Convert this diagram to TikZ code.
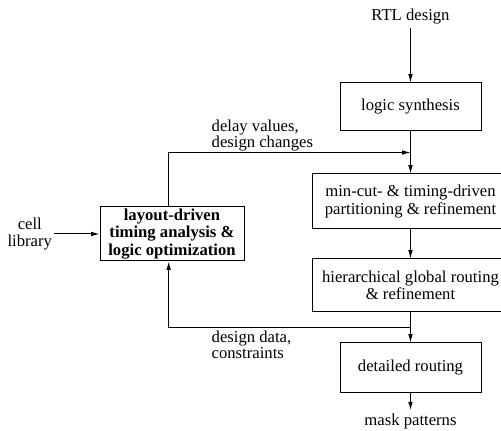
\documentclass[tikz,border=0pt]{standalone}
\usepackage{fontspec}
\setmainfont{Liberation Serif}
\usetikzlibrary{positioning,calc,arrows.meta}
\tikzset{ %
  ,>={Latex[length=5pt,width=2.8pt]}
  ,every node/.style={font=\fontsize{10}{10.5}\selectfont}
  ,every path/.style={line width=0.6pt}
  ,step box/.style={draw, align=center, inner sep=2pt, minimum width=84.6pt}
  ,wide box/.style={step box, minimum width=117.6pt}
  ,opt box/.style={step box, inner sep=0.5pt, minimum width=86.4pt, minimum height=32.4pt, font=\fontsize{10}{10.3}\selectfont\bfseries}
  ,io/.style={inner sep=2pt, align=center}
  ,note/.style={inner sep=0.5pt, align=left, font=\fontsize{10}{9.6}\selectfont}
}
\begin{document}
\begin{tikzpicture}
  \useasboundingbox (0,0) rectangle (300.6pt,-258.6pt);
  % main flow
  \node[step box, minimum height=28.8pt] (synth) at (246.3pt,-64.2pt) {logic synthesis};
  \node[io, above=32.8pt of synth] (rtl) {RTL design};
  \node[wide box, minimum height=33pt, below=25.2pt of synth] (part) {min-cut- \& timing-driven\\partitioning \& refinement};
  \node[wide box, minimum height=31.8pt, below=17.4pt of part] (route) {hierarchical global routing\\\& refinement};
  \node[step box, minimum height=30pt, below=18pt of route] (detail) {detailed routing};
  \node[io, below=10pt of detail] (mask) {mask patterns};
  % optimization loop
  \node[opt box] (opt) at (103.2pt,-140.4pt) {layout-driven\\timing analysis \&\\logic optimization};
  \node[io, inner sep=1pt, left=27.2pt of opt] (cell) {cell\\library};
  \coordinate (mrg) at ($(synth.south)!0.5!(part.north)$);
  \coordinate (spl) at ($(route.south)!0.5!(detail.north)$);
  \coordinate (tl) at ([xshift=-2pt]opt.north |- mrg);
  \coordinate (bl) at ([xshift=-2pt]opt.south |- spl);
  \node[note, above right=0pt and 25pt of tl] (dly) {delay values,\\design changes};
  \node[note, below right=1pt and 25pt of bl] (dat) {design data,\\constraints};
  \draw[->] (rtl) -- (synth);
  \draw[->] (synth) -- (part);
  \draw[->] (part) -- (route);
  \draw[->] (route) -- (detail);
  \draw[->] (detail) -- (mask);
  \draw[->] (cell) -- (opt);
  \draw[->] ([xshift=-2pt]opt.north) -- (tl) -- (mrg);
  \draw[->] (spl) -- (bl) -- ([xshift=-2pt]opt.south);
\end{tikzpicture}
\end{document}
